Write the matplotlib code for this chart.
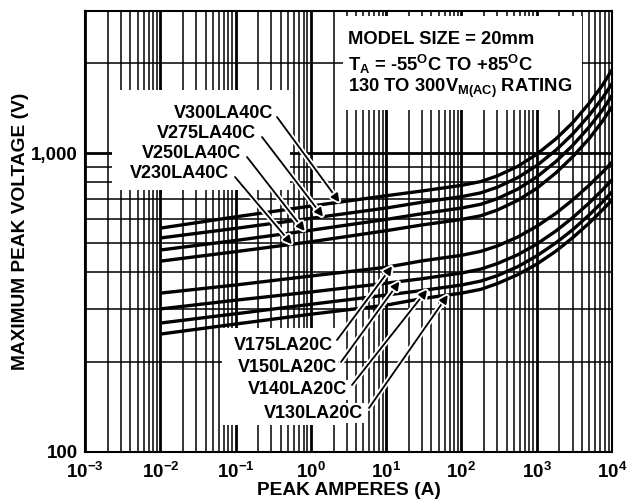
import matplotlib
matplotlib.use("Agg")
import matplotlib.pyplot as plt
import matplotlib.patheffects as pe
from matplotlib.patches import Rectangle
import numpy as np

plt.rcParams['font.family'] = ['Liberation Sans', 'DejaVu Sans']
plt.rcParams['font.weight'] = 'bold'
plt.rcParams['mathtext.fontset'] = 'custom'
plt.rcParams['mathtext.rm'] = 'Liberation Sans:bold'
plt.rcParams['mathtext.bf'] = 'Liberation Sans:bold'
plt.rcParams['mathtext.it'] = 'Liberation Sans:bold'

# ---- data (peak amperes vs maximum peak voltage) ----
current = [0.01, 0.1, 1, 10, 30, 100, 180, 300, 560, 1000, 1800, 3000, 5000, 7500, 10000]

v300 = [561, 612, 665, 720, 747, 780, 803, 839, 903, 991, 1116, 1264, 1470, 1690, 1900]
v275 = [520, 560, 605, 655, 685, 715, 736, 769, 828, 908, 1023, 1158, 1340, 1530, 1710]
v250 = [474, 510, 552, 600, 627, 655, 674, 704, 758, 832, 937, 1061, 1225, 1395, 1560]
v230 = [435, 468, 505, 550, 575, 600, 617, 645, 695, 762, 859, 972, 1120, 1280, 1430]
v175 = [340, 362, 388, 415, 436, 455, 469, 489, 524, 569, 629, 697, 782, 864, 933]
v150 = [301, 322, 343, 367, 380, 397, 409, 427, 457, 496, 549, 608, 682, 754, 814]
v140 = [270, 290, 312, 335, 347, 362, 373, 389, 417, 453, 501, 554, 622, 687, 742]
v130 = [248, 268, 289, 310, 326, 340, 350, 366, 392, 425, 470, 521, 584, 646, 697]

series_names = ["V300LA40C", "V275LA40C", "V250LA40C", "V230LA40C",
                "V175LA20C", "V150LA20C", "V140LA20C", "V130LA20C"]
series_vals = [v300, v275, v250, v230, v175, v150, v140, v130]
# current at which each label's arrow touches its curve
arrow_at = [2.4, 1.45, 0.83, 0.56, 12, 15, 35, 66]

x_ticks = [1e-3, 1e-2, 1e-1, 1e0, 1e1, 1e2, 1e3, 1e4]
x_tick_labels = [r'$10^{-3}$', r'$10^{-2}$', r'$10^{-1}$', r'$10^{0}$',
                 r'$10^{1}$', r'$10^{2}$', r'$10^{3}$', r'$10^{4}$']
y_ticks = [100, 1000]
y_tick_labels = ["100", "1,000"]

W, H = 632, 504
fig = plt.figure(figsize=(W / 100, H / 100), dpi=100)
ax = fig.add_axes([85 / W, 1 - 452 / H, (612 - 85) / W, (452 - 10.5) / H])

def fx(px, py):
    return (px / W, 1 - py / H)

ax.set_xscale('log')
ax.set_yscale('log')
ax.set_xlim(1e-3, 1e4)
ax.set_ylim(100, 3000)

# grid
ax.grid(True, which='major', color='black', lw=2.0, zorder=0)
ax.grid(True, which='minor', color='black', lw=1.1, zorder=0)
ax.set_axisbelow(True)
for s in ax.spines.values():
    s.set_linewidth(1.5)

ax.set_xticks(x_ticks)
ax.set_xticklabels(x_tick_labels, fontsize=13.5)
ax.set_yticks(y_ticks)
ax.set_yticklabels(y_tick_labels, fontsize=13.5, fontweight='bold')
ax.yaxis.set_minor_formatter(matplotlib.ticker.NullFormatter())
ax.xaxis.set_minor_formatter(matplotlib.ticker.NullFormatter())
ax.tick_params(which='both', length=0)
ax.tick_params(axis='x', pad=7)
ax.tick_params(axis='y', pad=5)

ax.set_xlabel("PEAK AMPERES (A)", fontsize=13.8, fontweight='bold', labelpad=0)
ax.set_ylabel("MAXIMUM PEAK VOLTAGE (V)", fontsize=13.8, fontweight='bold', labelpad=2)

# white gaps in the grid paper behind text (pixel layout)
def ax_white(x0, y0, x1, y1):
    inv = ax.transAxes.inverted()
    p0 = inv.transform(fig.transFigure.transform(fx(x0, y1)))
    p1 = inv.transform(fig.transFigure.transform(fx(x1, y0)))
    ax.add_patch(Rectangle(p0, p1[0] - p0[0], p1[1] - p0[1], transform=ax.transAxes,
                           facecolor='white', edgecolor='none', zorder=1))

ax_white(112, 90, 290, 190)
ax_white(343, 16, 582, 110)
ax_white(222, 328, 335, 425)

# curves
for vals in series_vals:
    ax.plot(current, vals, color='black', lw=2.4, zorder=3, solid_capstyle='butt')

# labels and arrows
label_pos = [(273, 113), (256, 133), (241, 153), (229, 173),
             (333, 345), (337, 367), (347, 390), (363, 413)]
arrow_start = [(277, 117), (262, 137), (247, 157), (235, 177),
               (337, 340), (341, 362), (352, 385), (369, 408)]

for name, vals, xa, (lx, ly), (sx, sy) in zip(series_names, series_vals, arrow_at,
                                              label_pos, arrow_start):
    fig.text(*fx(lx, ly), name, ha='right', va='center', fontsize=13, fontweight='bold',
             zorder=5, bbox=dict(facecolor='white', edgecolor='none', pad=1.0))
    ya = 10 ** np.interp(np.log10(xa), np.log10(current), np.log10(vals))
    ax.annotate('', xy=(xa, ya), xycoords='data',
                xytext=fx(sx, sy), textcoords='figure fraction',
                arrowprops=dict(arrowstyle='-|>', color='black', lw=1.3,
                                mutation_scale=12, shrinkA=0, shrinkB=0,
                                path_effects=[pe.withStroke(linewidth=4, foreground='white')]),
                zorder=4)

# info box
fig.text(*fx(348, 40), "MODEL SIZE = 20mm", fontsize=13.2, fontweight='bold', va='center', zorder=5)
fig.text(*fx(348, 64), r"T$_\mathregular{A}$ = -55$^\mathregular{O}$C TO +85$^\mathregular{O}$C",
         fontsize=13.2, fontweight='bold', va='center', zorder=5)
fig.text(*fx(348, 88), r"130 TO 300V$_\mathregular{M(AC)}$ RATING", fontsize=13.2,
         fontweight='bold', va='center', zorder=5)

fig.savefig("out.png", dpi=100, facecolor='white')
